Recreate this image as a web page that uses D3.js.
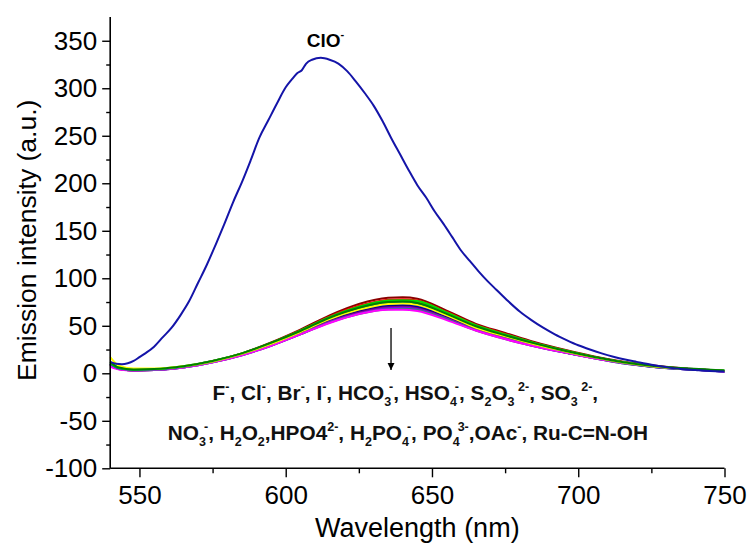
<!DOCTYPE html>
<html>
<head>
<meta charset="utf-8">
<script src="https://cdn.jsdelivr.net/npm/d3@7"></script>
<style>
html,body{margin:0;padding:0;background:#fff;}
svg{display:block;}
text{font-family:"Liberation Sans",Arial,Helvetica,sans-serif;}
</style>
</head>
<body>
<svg id="chart" width="748" height="544"></svg>
<script>
// ---------- DATA ----------
const yTicks = [-100, -50, 0, 50, 100, 150, 200, 250, 300, 350];
const yMinorTicks = [-75, -25, 25, 75, 125, 175, 225, 275, 325];
const xTicks = [550, 600, 650, 700, 750];
const xMinorTicks = [575, 625, 675, 725];

// ClO- response (blue)
const cloWave = [540,542,544,546,548,550,552,555,558,561,564,567,570,573,576,579,582,585,588,591,594,597,600,602,604,605.5,607,609,612,615,618,621,624,627,630,633,636,639,642,645,648,651,654,657,660,663,666,669,672,676,680,684,688,692,696,700,704,708,712,716,720,725,730,735,740,745,750];
const cloValues = [12,10,9.5,10.5,13,17,21,28,38,48,61,76,95,114,135,157,180,201,224,248,266,284,301,309,316,319,326,330,332,330,326,318,307,295,282,266,248,231,214,198,185,170,157,143,129,118,107,97,88,76,65,56,48,41,35,29.5,25,21,17.5,14.5,12,9,6.5,4.5,3.5,2.5,2];

// other analytes (cluster of curves)
const clusterWave = [540,543,548,555,565,575,585,595,605,615,625,635,640,645,655,665,675,685,695,705,715,725,735,750];
const sMagenta = [7,4,3,3.5,6,11.5,19,29,41,53,62.5,67,67,65.5,56,45,36,28.5,22,16,11,7.5,5,2];
const sTeal2   = [10,5,3,3.5,6,11.5,19,29,41,53.5,62.5,67.5,68,66.5,57,45,36,28.5,22,16,10.5,7,4.5,2];
const sViolet  = [9,4.5,3,3.5,6,11.5,19,29,41,54,63,68.5,69,67.5,57.5,45.5,36.5,28.5,22,16,10.5,7,4.5,2];
const sPurple  = [9,4.5,3,3.5,6,11.5,19.5,29.5,41.5,54.5,64,69.5,70,68.5,58,46,37,29,22,16,11,7,4.5,2];
const sNavy    = [10,5,3.5,3.5,6.5,12,19.5,30,42,55,65,70.5,71,69.5,59,46.5,37.5,29.5,22.5,16.5,11,7.5,5,2.5];
const sBlue    = [10,5,3.5,3.5,6.5,12,19.5,30,42.5,56,65.5,71.5,72,70.5,60,47,38,29.5,22.5,16.5,11,7,4.5,2];
const sRoyal   = [9,5,3,3.5,6.5,12,20,30.5,43,56.5,66.5,72.5,73,71.5,60.5,47.5,38.5,30,23,16.5,11,7.5,5,2.5];
const sOrange  = [9,5,3,3.5,6.5,12,20,31,43.5,57,67.5,73.5,74,72.5,61.5,48.5,39,30.5,23.5,17,11.5,7.5,5,2.5];
const sDkCyan  = [10,5,3.5,4,7,12.5,20.5,31,44,58,68.5,74.5,75,73.5,62,49,39.5,31,23.5,17,11.5,7.5,5,2.5];
const sOlive   = [10,5.5,3.5,4,7,12.5,20.5,31.5,44.5,58.5,69.5,75.5,76,74.5,63,50,40.5,31.5,24,17,11.5,7.5,5,2.5];
const sYellow  = [17,8,5,5,7.5,12.5,20.5,31,43.5,57,67,73,73.5,72,61,48,39,30.5,23.5,17,11.5,7.5,5,2.5];
const sGreen   = [11,6,4,4.5,7.5,13,21,32,45,59,70,76.5,77,76,64,50.5,41,32,24.5,17.5,12,8,5,3];
const sDkGreen = [12,6,4,4.5,7.5,13,21,32,44.5,58.5,69,75,75.5,74,62.5,49.5,40,31.5,24,17.5,12,8,5.5,3];
const sRed     = [8,4.5,3,4,7,12.5,20.5,32,45,59.5,71,77.5,78,76.5,64.5,51,41.5,32,24.5,17.5,12,8,5,2.5];
const sWine    = [9,5,3.5,4,7,13,21,32.5,46,61,73,79.5,80,78.5,66,52,42.5,33,25,18,12.5,8.5,5.5,2.5];

const clusterSeries = [sWine, sRed, sOlive, sOrange, sRoyal, sBlue, sNavy, sPurple, sViolet, sTeal2, sMagenta, sDkCyan, sGreen, sYellow, sDkGreen];
const clusterColors = ["#8b0000","#ff0000","#808000","#ff8000","#3f3fd0","#0000ff","#000080","#800080","#8000ff","#407878","#ff00ff","#008080","#00dd00","#ffff00","#008000"];

const line1 = [["F","n"],["-","sup"],[", Cl","n"],["-","sup"],[", Br","n"],["-","sup"],[", I","n"],["-","sup"],[", HCO","n"],["3","sub"],["-","supb"],[", HSO","n"],["4","sub"],["-","supb"],[", S","n"],["2","sub"],["O","n"],["3","sub"],[" 2-","sup"],[", SO","n"],["3","sub"],[" 2-","sup"],[",","n"]];
const line2 = [["NO","n"],["3","sub"],["-","supb"],[", H","n"],["2","sub"],["O","n"],["2","sub"],[",HPO4","n"],["2-","sup"],[", H","n"],["2","sub"],["PO","n"],["4","sub"],["-","supb"],[", PO","n"],["4","sub"],["3-","supb"],[",OAc","n"],["-","sup"],[", Ru-C=N-OH","n"]];

// ---------- CHART ----------
const svg = d3.select("#chart");
const x = d3.scaleLinear().domain([540, 750]).range([110.2, 724.5]);
const y = d3.scaleLinear().domain([-100, 375]).range([468.3, 17]);
const FONT = '"Liberation Sans",Arial,Helvetica,sans-serif';

const lineGen = d3.line().curve(d3.curveMonotoneX);

// cluster curves
clusterSeries.forEach((vals, i) => {
  svg.append("path")
    .attr("d", lineGen(clusterWave.map((w, j) => [x(w), y(vals[j])])))
    .attr("fill", "none")
    .attr("stroke", clusterColors[i])
    .attr("stroke-width", 2);
});

// ClO- curve
svg.append("path")
  .attr("d", lineGen(cloWave.map((w, j) => [x(w), y(cloValues[j])])))
  .attr("fill", "none")
  .attr("stroke", "#1414a8")
  .attr("stroke-width", 2);

// axes
const fmt = d => String(d);
const gy = svg.append("g").attr("transform", `translate(${x(540)},0)`);
gy.call(d3.axisLeft(y).tickValues(yTicks).tickSize(8).tickPadding(5).tickFormat(fmt));
const gyMinor = svg.append("g").attr("transform", `translate(${x(540)},0)`);
gyMinor.call(d3.axisLeft(y).tickValues(yMinorTicks).tickSize(4).tickFormat(""));
gyMinor.select(".domain").remove();

const gx = svg.append("g").attr("transform", `translate(0,${y(-100)})`);
gx.call(d3.axisBottom(x).tickValues(xTicks).tickSize(9).tickPadding(8).tickFormat(fmt));
const gxMinor = svg.append("g").attr("transform", `translate(0,${y(-100)})`);
gxMinor.call(d3.axisBottom(x).tickValues(xMinorTicks).tickSize(5).tickFormat(""));
gxMinor.select(".domain").remove();

svg.selectAll(".domain").attr("stroke", "#000").attr("stroke-width", 1.6);
svg.selectAll(".tick line").attr("stroke", "#000").attr("stroke-width", 1.4);
svg.selectAll(".tick text").attr("font-family", FONT).attr("font-size", 26).attr("fill", "#000");
gy.selectAll(".domain").attr("d", `M0,${y(-100)}V${y(375)}`);
gx.selectAll(".domain").attr("d", `M${x(540)},0H${x(750)}`);

// axis titles
svg.append("text")
  .attr("x", x(645)).attr("y", 537)
  .attr("text-anchor", "middle")
  .attr("font-family", FONT).attr("font-size", 27)
  .text("Wavelength (nm)");
svg.append("text")
  .attr("transform", `translate(36,${y(140)}) rotate(-90)`)
  .attr("text-anchor", "middle")
  .attr("font-family", FONT).attr("font-size", 26.5)
  .text("Emission intensity (a.u.)");

// ClO- label
const clo = svg.append("text")
  .attr("x", x(607.2)).attr("y", y(343))
  .attr("font-family", FONT).attr("font-weight", "bold").attr("font-size", 19);
clo.append("tspan").text("ClO");
clo.append("tspan").attr("y", y(343) - 9).attr("font-size", 11).text("-");

// arrow
svg.append("defs").append("marker")
  .attr("id", "ah").attr("viewBox", "0 0 10 10").attr("refX", 10).attr("refY", 5)
  .attr("markerWidth", 7).attr("markerHeight", 10).attr("markerUnits", "userSpaceOnUse")
  .attr("orient", "auto")
  .append("path").attr("d", "M0,0L10,5L0,10Z").attr("fill", "#000");
svg.append("line")
  .attr("x1", x(636)).attr("x2", x(636))
  .attr("y1", y(47.7)).attr("y2", y(3.5))
  .attr("stroke", "#000").attr("stroke-width", 1.3)
  .attr("marker-end", "url(#ah)");

// analyte labels
function chemLine(parts, wx, vy) {
  const base = y(vy);
  const t = svg.append("text")
    .attr("x", x(wx)).attr("y", base)
    .attr("font-family", FONT).attr("font-weight", "bold").attr("font-size", 20.8)
    .attr("fill", "#111");
  parts.forEach(([s, k]) => {
    const ts = t.append("tspan").text(s);
    if (k === "n") ts.attr("y", base);
    else if (k === "sub") ts.attr("y", base + 6).attr("font-size", 12.5);
    else if (k === "sup") ts.attr("y", base - 9).attr("font-size", 12.5);
    else if (k === "supb") ts.attr("y", base - 9).attr("dx", -2).attr("font-size", 12.5);
  });
}
chemLine(line1, 575, -28);
chemLine(line2, 559.7, -70);
</script>
</body>
</html>
